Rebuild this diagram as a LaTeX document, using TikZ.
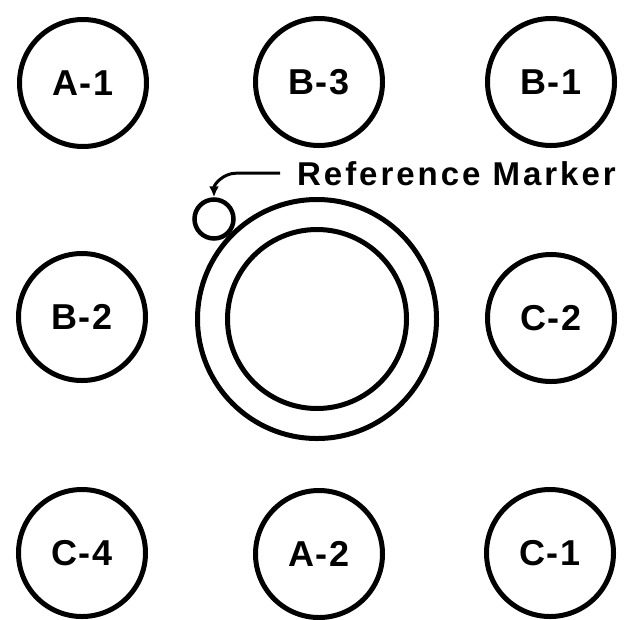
\documentclass[tikz,border=0pt]{standalone}
\usepackage{fontspec}
\setmainfont{Liberation Sans}
\usetikzlibrary{arrows.meta,positioning}
\tikzset{>={Latex[length=11pt,width=10pt]}}
\tikzset{hole/.style={circle, draw=black, line width=5pt, minimum size=127pt,
    inner sep=0pt, font=\fontsize{36}{36}\selectfont\bfseries}}
\tikzset{ring/.style={circle, draw=black, line width=5pt, inner sep=0pt}}

\begin{document}
\begin{tikzpicture}[x=1pt,y=-1pt]
  \useasboundingbox (0,0) rectangle (644,619);
  % outer holes
  \foreach \x/\y/\lbl/\nm in {83/83/A-1/aone, 319/82/B-3/bthree, 551/82/B-1/bone,
      82/317/B-2/btwo, 551/318/C-2/ctwo,
      82/553/C-4/cfour, 319/554/A-2/atwo, 550/553/C-1/cone}
    \node[hole] (\nm) at (\x,\y) {\addfontfeature{LetterSpace=4}\lbl};
  % center ring
  \node[ring, minimum size=239pt] (outer) at (317,319) {};
  \node[ring, minimum size=179pt] (inner) at (317,319) {};
  \node[ring, line width=4.5pt, minimum size=39pt] (marker) at (214,219) {};
  \node[anchor=base west, inner sep=0pt,
    font=\fontsize{33}{33}\selectfont\bfseries] (reftext) at (297,185)
    {\addfontfeature{LetterSpace=9}Reference Marker};
  \draw[->, line width=3pt] ([xshift=-17pt]reftext.west) -- ++(-44,0)
    to[out=180,in=90] (marker.north);
\end{tikzpicture}
\end{document}
